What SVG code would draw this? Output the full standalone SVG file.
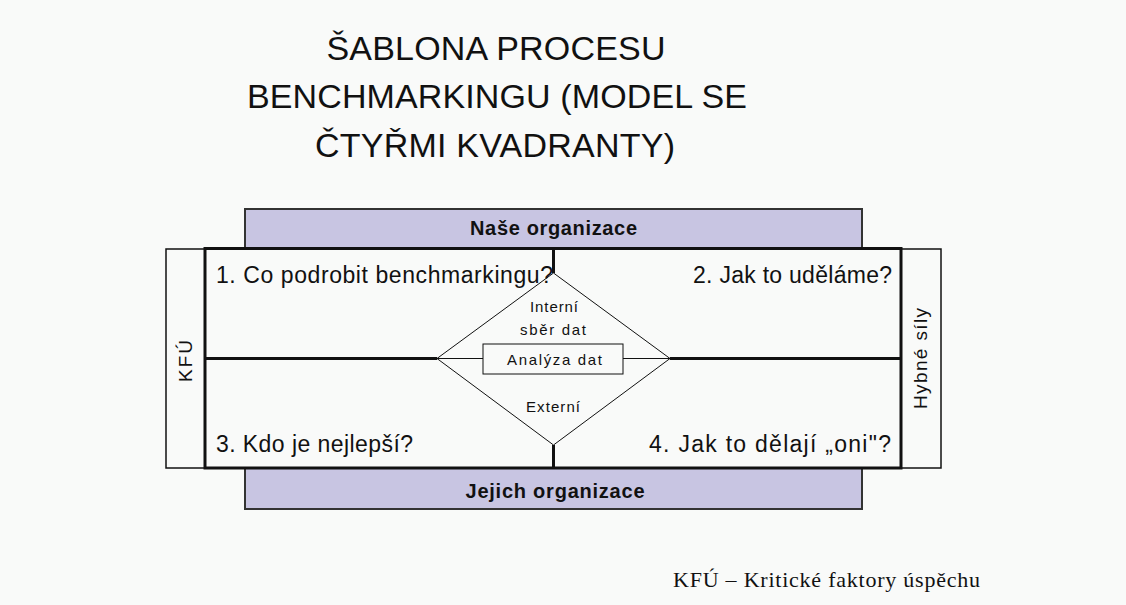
<svg xmlns="http://www.w3.org/2000/svg" width="1126" height="605" viewBox="0 0 1126 605">
<style>
.title{font-family:"Liberation Sans",Arial,sans-serif;font-size:34px;fill:#111;text-anchor:middle}
.q{font-family:"Liberation Sans",Arial,sans-serif;font-size:23px;fill:#111}
.bar{fill:#C8C5E2;stroke:#333;stroke-width:2}
.barText{font-family:"Liberation Sans",Arial,sans-serif;font-size:20px;font-weight:bold;fill:#111;text-anchor:middle}
.small{font-family:"Liberation Sans",Arial,sans-serif;font-size:15px;fill:#111;text-anchor:middle}
.side{font-family:"Liberation Sans",Arial,sans-serif;font-size:19px;fill:#111;text-anchor:middle}
.thick{stroke:#111;stroke-width:3;fill:none}
.thin{stroke:#111;stroke-width:1;fill:none}
.box{fill:none;stroke:#111;stroke-width:1.5}
.foot{font-family:"Liberation Serif","Times New Roman",serif;font-size:22px;fill:#111}
</style>
<rect width="1126" height="605" fill="#F9FAF9"/>
<g id="title">
<text class="title" x="496" y="60" textLength="339">ŠABLONA PROCESU</text>
<text class="title" x="497" y="108" textLength="500">BENCHMARKINGU (MODEL SE</text>
<text class="title" x="495" y="157" textLength="360">ČTYŘMI KVADRANTY)</text>
</g>
<g id="nase-organizace">
<rect class="bar" x="245" y="209" width="617" height="39"/>
<text class="barText" x="553.5" y="235" textLength="167">Naše organizace</text>
</g>
<g id="jejich-organizace">
<rect class="bar" x="245" y="468" width="617" height="41"/>
<text class="barText" x="555" y="498" textLength="179">Jejich organizace</text>
</g>
<g id="kfu">
<rect class="box" x="166" y="249" width="39" height="219"/>
<text class="side" transform="translate(192,361) rotate(-90)" textLength="42">KFÚ</text>
</g>
<g id="hybne-sily">
<rect class="box" x="901" y="249" width="40" height="219"/>
<text class="side" transform="translate(927,358.5) rotate(-90)" textLength="101">Hybné síly</text>
</g>
<g id="quadrants">
<rect class="thick" x="205" y="248.5" width="696" height="219.5"/>
<text class="q" x="216" y="283" textLength="337">1. Co podrobit benchmarkingu?</text>
<text class="q" x="892" y="283" text-anchor="end" textLength="199">2. Jak to uděláme?</text>
<text class="q" x="216" y="452" textLength="197">3. Kdo je nejlepší?</text>
<text class="q" x="891" y="452" text-anchor="end" textLength="242">4. Jak to dělají „oni"?</text>
</g>
<g id="connectors">
<line class="thick" x1="205" y1="358.5" x2="437" y2="358.5"/>
<line class="thick" x1="670" y1="358.5" x2="901" y2="358.5"/>
<line class="thick" x1="553.5" y1="248.5" x2="553.5" y2="273"/>
<line class="thick" x1="553.5" y1="445" x2="553.5" y2="468"/>
<line class="thin" x1="437" y1="358.5" x2="483" y2="358.5"/>
<line class="thin" x1="623" y1="358.5" x2="670" y2="358.5"/>
</g>
<g id="diamond">
<polygon class="thin" points="553.5,273 670,358.5 553.5,445 437,358.5"/>
<text class="small" x="554" y="312" textLength="48">Interní</text>
<text class="small" x="553" y="335" textLength="66">sběr dat</text>
<text class="small" x="553" y="412" textLength="54">Externí</text>
</g>
<g id="analyza-dat">
<rect class="thin" x="483" y="344" width="140" height="30" fill="#F9FAF9"/>
<text class="small" x="554.5" y="365" textLength="95">Analýza dat</text>
</g>
<g id="footnote">
<text class="foot" x="673" y="587" textLength="307">KFÚ – Kritické faktory úspěchu</text>
</g>
</svg>
